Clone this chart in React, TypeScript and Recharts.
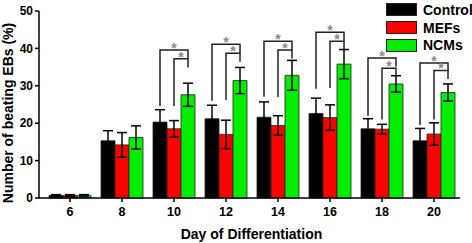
import { BarChart, Bar, XAxis, YAxis, ErrorBar, Legend, Rectangle } from 'recharts'

const days = ['6', '8', '10', '12', '14', '16', '18', '20']
const control = [0.7, 15.3, 20.3, 21.2, 21.6, 22.6, 18.5, 15.3]
const controlErr = [0.2, 2.7, 3.3, 3.6, 4.1, 4.1, 2.7, 3.3]
const mefs = [0.7, 14.2, 18.5, 17.0, 19.4, 21.5, 18.4, 17.1]
const mefsErr = [0.2, 3.3, 2.2, 3.8, 2.6, 3.4, 1.3, 3.0]
const ncms = [0.7, 16.2, 27.6, 31.4, 32.8, 35.8, 30.5, 28.2]
const ncmsErr = [0.2, 3.1, 3.1, 3.5, 4.0, 3.9, 2.2, 2.3]
// significance brackets (control vs NCMs, MEFs vs NCMs)
const outerTop = [null, null, 39.6, 41.1, 41.9, 44.3, 37.4, 36.1]
const innerTop = [null, null, 37.2, 38.7, 39.6, 41.9, 34.7, 34.1]
const outerFoot = [null, null, 24.6, 26.0, 27.1, 29.2, 22.0, 19.5]
const innerFoot = [null, null, 24.6, 26.2, 27.0, 29.4, 21.0, 21.0]

const yTicks = [0, 10, 20, 30, 40, 50]

const series = [
  { key: 'control', name: 'Control', color: '#000000' },
  { key: 'mefs', name: 'MEFs', color: '#ff0000' },
  { key: 'ncms', name: 'NCMs', color: '#00ee00' },
]

const data = days.map((d, i) => ({
  day: d,
  control: control[i],
  controlErr: controlErr[i],
  mefs: mefs[i],
  mefsErr: mefsErr[i],
  ncms: ncms[i],
  ncmsErr: ncmsErr[i],
  outerTop: outerTop[i],
  innerTop: innerTop[i],
  outerFoot: outerFoot[i],
  innerFoot: innerFoot[i],
}))

const FONT = 'Arial, "Liberation Sans", sans-serif'

// NCMs bar also draws the bracket over its group, using the bar's own px/unit
function NcmShape(props: any) {
  const { x, y, width, height, payload } = props
  const p = payload
  const rect = <Rectangle x={x} y={y} width={width} height={height} fill={props.fill} stroke={props.stroke} strokeWidth={props.strokeWidth} />
  if (p.outerTop == null || !p.ncms) return rect
  const ppu = height / p.ncms
  const base = y + height
  const py = (v: number) => base - v * ppu
  const cG = x + width / 2
  const cR = cG - width
  const cC = cG - 2 * width
  const drop = 2.3
  const lineStyle = { stroke: '#222', strokeWidth: 1.5, fill: 'none' }
  return (
    <g>
      {rect}
      <polyline
        points={`${cC},${py(p.outerFoot)} ${cC},${py(p.outerTop)} ${cG},${py(p.outerTop)} ${cG},${py(p.outerTop - drop)}`}
        {...lineStyle}
      />
      <polyline
        points={`${cR},${py(p.innerFoot)} ${cR},${py(p.innerTop)} ${cG},${py(p.innerTop)} ${cG},${py(p.innerTop - drop)}`}
        {...lineStyle}
      />
      <text x={cR} y={py(p.outerTop) + 3} textAnchor="middle" fontSize={14} fontWeight="bold" fill="#888" fontFamily={FONT}>*</text>
      <text x={(cR + cG) / 2} y={py(p.innerTop) + 3} textAnchor="middle" fontSize={14} fontWeight="bold" fill="#888" fontFamily={FONT}>*</text>
    </g>
  )
}

function LegendBox() {
  return (
    <div style={{ fontFamily: FONT, fontWeight: 'bold', fontSize: 14, color: '#000' }}>
      {series.map((s) => (
        <div key={s.key} style={{ display: 'flex', alignItems: 'center', height: 17.7 }}>
          <span style={{ display: 'inline-block', width: 29, height: 11, background: s.color, border: '1px solid #222', marginRight: 6 }} />
          <span>{s.name}</span>
        </div>
      ))}
    </div>
  )
}

export default function App() {
  return (
    <div style={{ position: 'absolute', left: 0, top: 0, width: 472, height: 243, background: '#fff' }}>
      <BarChart
        width={472}
        height={243}
        data={data}
        margin={{ top: 11, right: 12, left: 0, bottom: 0 }}
        barCategoryGap={5}
        barGap={0}
      >
        <XAxis
          dataKey="day"
          height={45}
          padding={{ left: 5, right: 0 }}
          tickSize={4}
          tickMargin={5}
          axisLine={{ stroke: '#000', strokeWidth: 1.5 }}
          tickLine={{ stroke: '#000', strokeWidth: 1.5 }}
          tick={{ fill: '#000', fontSize: 12.5, fontWeight: 'bold', fontFamily: FONT }}
          label={{
            content: ({ viewBox }: any) => (
              <text x={viewBox.x + viewBox.width / 2 + 2} y={239} textAnchor="middle" fontSize={14} fontWeight="bold" fontFamily={FONT} fill="#000">
                Day of Differentiation
              </text>
            ),
          }}
        />
        <YAxis
          width={39}
          domain={[0, 50]}
          ticks={yTicks}
          tickSize={4}
          tickMargin={2}
          axisLine={{ stroke: '#000', strokeWidth: 1.5 }}
          tickLine={{ stroke: '#000', strokeWidth: 1.5 }}
          tick={{ fill: '#000', fontSize: 12, fontWeight: 'bold', fontFamily: FONT }}
          label={{
            content: () => (
              <text x={0} y={0} transform="translate(13,113) rotate(-90)" textAnchor="middle" fontSize={14} fontWeight="bold" fontFamily={FONT} fill="#000">
                Number of beating EBs (%)
              </text>
            ),
          }}
        />
        <Legend
          layout="horizontal"
          verticalAlign="middle"
          align="center"
          content={() => <LegendBox />}
          wrapperStyle={{ top: 1, left: 386, width: 90 }}
        />
        <Bar dataKey="control" name="Control" fill="#000000" stroke="#222" strokeWidth={0.8} isAnimationActive={false}>
          <ErrorBar dataKey="controlErr" width={5} stroke="#000" strokeWidth={1.5} />
        </Bar>
        <Bar dataKey="mefs" name="MEFs" fill="#ff0000" stroke="#222" strokeWidth={0.8} isAnimationActive={false}>
          <ErrorBar dataKey="mefsErr" width={5} stroke="#000" strokeWidth={1.5} />
        </Bar>
        <Bar dataKey="ncms" name="NCMs" fill="#00ee00" stroke="#222" strokeWidth={0.8} isAnimationActive={false} shape={NcmShape}>
          <ErrorBar dataKey="ncmsErr" width={5} stroke="#000" strokeWidth={1.5} />
        </Bar>
      </BarChart>
    </div>
  )
}
